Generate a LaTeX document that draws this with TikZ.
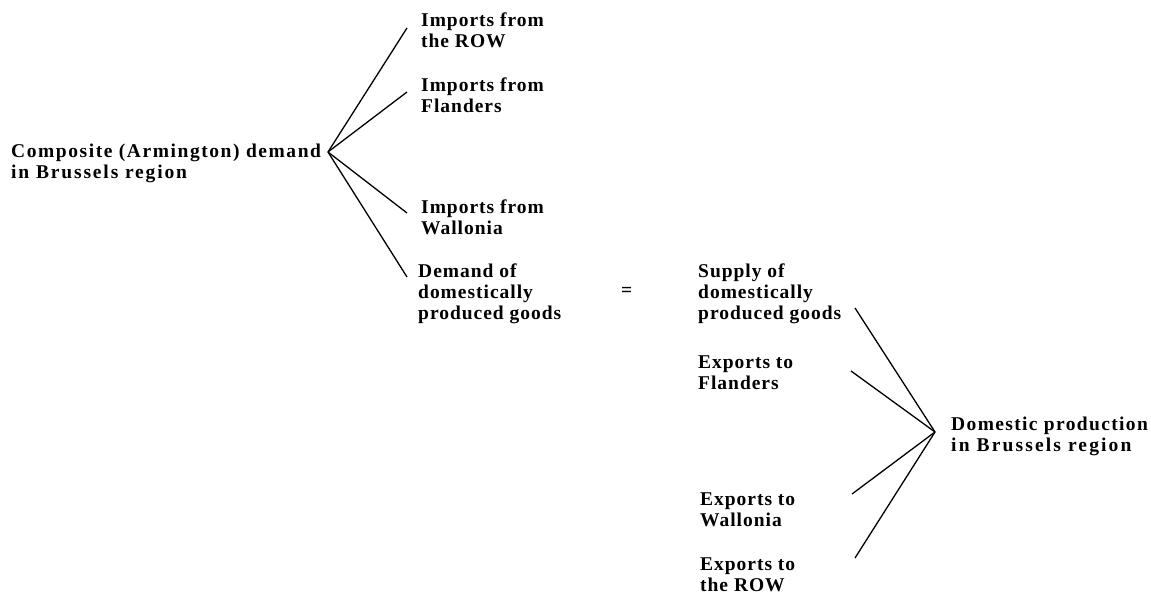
\documentclass[tikz,border=0pt]{standalone}
\usepackage{fontspec}
\setmainfont{Liberation Serif}[LetterSpace=5]
\begin{document}
\begin{tikzpicture}[x=1pt,y=-1pt,
  lbl/.style={inner sep=0pt,anchor=base west,font=\fontsize{19.5}{21}\selectfont\bfseries},
  conn/.style={line width=1.3pt,black}]
\useasboundingbox (0,0) rectangle (1151,593);
\newcommand{\tl}[1]{\begin{tabular}[t]{@{}l@{}}#1\end{tabular}}
\newcommand{\ls}[1]{\addfontfeatures{LetterSpace=#1}}
% left tree
\node[lbl] (comp) at (11,158) {\tl{\ls{8}Composite (Armington) demand\\\ls{9.5}in Brussels region}};
\node[lbl] (irow) at (421,27) {\tl{Imports from\\the ROW}};
\node[lbl] (ifla) at (421,92) {\tl{Imports from\\Flanders}};
\node[lbl] (iwal) at (421,214) {\tl{Imports from\\Wallonia}};
\node[lbl] (ddom) at (418,278) {\tl{Demand of\\domestically\\produced goods}};
\node[lbl] (eq) at (621,297) {=};
% right tree
\node[lbl] (sdom) at (698,278) {\tl{Supply of\\domestically\\produced goods}};
\node[lbl] (efla) at (698,369) {\tl{Exports to\\Flanders}};
\node[lbl] (ewal) at (700,505) {\tl{Exports to\\Wallonia}};
\node[lbl] (erow) at (700,570) {\tl{Exports to\\the ROW}};
\node[lbl] (dprod) at (951,430) {\tl{\ls{7}Domestic production\\\ls{11}in Brussels region}};
% connector coordinates
\coordinate (lhub) at (328,152);
\coordinate (l1) at (407,28);
\coordinate (l2) at (407,92);
\coordinate (l3) at (407,213);
\coordinate (l4) at (407,277);
\coordinate (rhub) at (935,432);
\coordinate (r1) at (855,308);
\coordinate (r2) at (851,371);
\coordinate (r3) at (852,494);
\coordinate (r4) at (855,558);
\draw[conn] (lhub) -- (l1);
\draw[conn] (lhub) -- (l2);
\draw[conn] (lhub) -- (l3);
\draw[conn] (lhub) -- (l4);
\draw[conn] (rhub) -- (r1);
\draw[conn] (rhub) -- (r2);
\draw[conn] (rhub) -- (r3);
\draw[conn] (rhub) -- (r4);
\end{tikzpicture}
\end{document}
